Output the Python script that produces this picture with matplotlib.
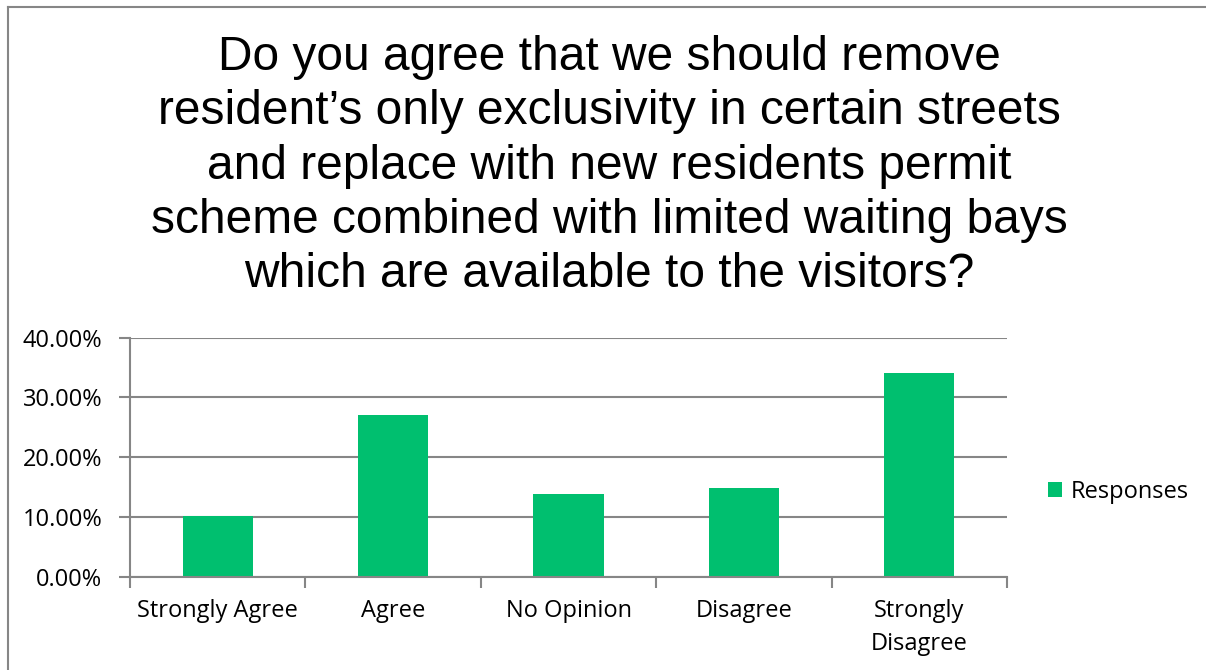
import matplotlib.pyplot as plt
from matplotlib.ticker import PercentFormatter, FixedLocator
from matplotlib.lines import Line2D

# survey answers
categories = ['Strongly Agree', 'Agree', 'No Opinion', 'Disagree', 'Strongly\nDisagree']
responses = [0.1011, 0.2704, 0.1380, 0.1487, 0.3402]
series_name = 'Responses'
title = ("Do you agree that we should remove\n"
         "resident\u2019s only exclusivity in certain streets\n"
         "and replace with new residents permit\n"
         "scheme combined with limited waiting bays\n"
         "which are available to the visitors?")

green = '#00BF6F'
grey = '#868686'
W, H = 1206, 670

fig = plt.figure(figsize=(W / 100, H / 100), dpi=100)
ax = fig.add_axes([130 / W, 1 - 576.5 / H, 877 / W, (576.5 - 337.7) / H])

x = range(len(categories))
ax.bar(x, responses, width=0.4, color=green, label=series_name, zorder=2)

ax.set_xlim(-0.5, len(categories) - 0.5)
ax.set_ylim(0, 0.4)
ax.set_yticks([0, 0.1, 0.2, 0.3, 0.4])
ax.yaxis.set_major_formatter(PercentFormatter(1, decimals=2))
ax.grid(axis='y', color=grey, linewidth=1.5, zorder=0)
ax.set_axisbelow(True)

ax.set_xticks(list(x))
ax.set_xticklabels(categories)
ax.xaxis.set_minor_locator(FixedLocator([i - 0.5 for i in range(len(categories) + 1)]))
ax.tick_params(axis='x', which='major', length=0, pad=16)
ax.tick_params(axis='x', which='minor', length=8, width=1.5, color=grey)
ax.tick_params(axis='y', length=8, width=1.5, color=grey, pad=12)

for lab in ax.get_xticklabels() + ax.get_yticklabels():
    lab.set_fontfamily('Open Sans')
    lab.set_fontsize(17)
for lab in ax.get_xticklabels():
    lab.set_linespacing(1.5)

for s in ['top', 'right']:
    ax.spines[s].set_visible(False)
for s in ['left', 'bottom']:
    ax.spines[s].set_color(grey)
    ax.spines[s].set_linewidth(1.5)

ax.legend(loc='center left', bbox_to_anchor=(1048 / W, 1 - 492 / H),
          bbox_transform=fig.transFigure, frameon=False,
          handlelength=0.6, handleheight=0.6, handletextpad=0.35,
          borderpad=0, borderaxespad=0,
          prop={'family': 'Open Sans', 'size': 17})

fig.text(609 / W, 1 - 35 / H, title, ha='center', va='top',
         fontfamily='Liberation Sans', fontsize=34.5, linespacing=1.265)

# chart-area border (top and left edges only visible)
fig.add_artist(Line2D([8 / W, 8 / W], [0, 1 - 7 / H], transform=fig.transFigure,
                      color=grey, linewidth=1.5))
fig.add_artist(Line2D([8 / W, 1], [1 - 7 / H, 1 - 7 / H], transform=fig.transFigure,
                      color=grey, linewidth=1.5))

fig.savefig('out.png', dpi=100, facecolor='white')
